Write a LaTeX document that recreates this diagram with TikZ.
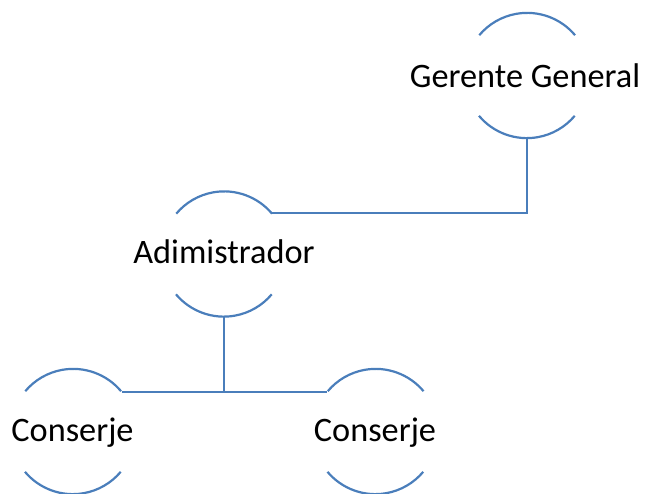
\documentclass[tikz,border=0pt]{standalone}
\usepackage{fontspec}
\setmainfont{Carlito}
\definecolor{linkblue}{RGB}{74,126,187}
\begin{document}
\begin{tikzpicture}[x=1pt,y=-1pt,
  ring/.style={circle,draw=none,minimum size=125pt,inner sep=0pt},
  arcline/.style={draw=linkblue,line width=2.2pt},
  conn/.style={draw=linkblue,line width=2.2pt},
  lbl/.style={anchor=base,inner sep=0pt,font=\fontsize{34.3}{40}\selectfont,text=black}]
\useasboundingbox (0,0) rectangle (645,493);
% circles
\node[ring] (g) at (527,75.5) {};
\node[ring] (a) at (224,254) {};
\node[ring] (c1) at (73,431.5) {};
\node[ring] (c2) at (375.5,431.5) {};
% arcs
\foreach \n in {g,a,c1,c2}{
  \draw[arcline] (\n.40) arc[start angle=40,end angle=140,radius=62.5pt];
  \draw[arcline] (\n.220) arc[start angle=220,end angle=320,radius=62.5pt];
}
% connectors
\draw[conn] (g.south) |- (a.41);
\draw[conn] (c1.39) -| (a.south);
\draw[conn] (c2.141) -| (a.south);
% labels
\node[lbl] (gt) at (525,87.3) {Gerente General};
\node[lbl] (at) at (224,263) {Adimistrador};
\node[lbl] (c1t) at (72.5,441.7) {Conserje};
\node[lbl] (c2t) at (375,441.7) {Conserje};
\end{tikzpicture}
\end{document}
